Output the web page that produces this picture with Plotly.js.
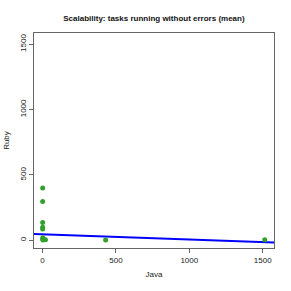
<!DOCTYPE html>
<html>
<head>
<meta charset="utf-8">
<script src="https://cdn.plot.ly/plotly-3.0.1.min.js"></script>
<style>html,body{margin:0;padding:0;background:#fff;}#chart{width:291px;height:291px;}</style>
</head>
<body>
<div id="chart"></div>
<script>
const javaValues = [1, 1, 1, 1, 1, 2, 1, 3, 20, 430, 1514];
const rubyValues = [400, 296, 136, 100, 86, 20, 10, 3, 5, 2, 5];
const fitIntercept = 46;
const fitSlope = -0.04;
const xRange = [-58, 1577];
const yRange = [-59, 1586];
const tickValues = [0, 500, 1000, 1500];
const titleText = "Scalability: tasks running without errors (mean)";

const fitX = [xRange[0], xRange[1]];
const fitY = fitX.map(x => fitIntercept + fitSlope * x);

const fontFam = "Liberation Sans, Arial, sans-serif";
const data = [
  {x: fitX, y: fitY, type: 'scatter', mode: 'lines',
   line: {color: '#0000ff', width: 2}, hoverinfo: 'skip'},
  {x: javaValues, y: rubyValues, type: 'scatter', mode: 'markers',
   marker: {color: '#33a02c', size: 5}}
];
const axisCommon = {
  showgrid: false, zeroline: false, showline: true, mirror: true,
  linecolor: '#666', linewidth: 1, ticks: 'outside', ticklen: 4,
  tickcolor: '#666', tickvals: tickValues,
  tickfont: {family: fontFam, size: 8, color: '#222'}
};
const layout = {
  width: 291, height: 291,
  margin: {l: 34, r: 17, t: 33, b: 43},
  paper_bgcolor: '#fff', plot_bgcolor: '#fff',
  showlegend: false,
  title: {text: '<b>' + titleText + '</b>', x: 0.529, xanchor: 'center',
          y: 0.938, yanchor: 'middle', font: {family: fontFam, size: 8, color: '#111'}},
  xaxis: Object.assign({}, axisCommon, {range: xRange,
    title: {text: 'Java', standoff: 7, font: {family: fontFam, size: 8, color: '#222'}}}),
  yaxis: Object.assign({}, axisCommon, {range: yRange, tickangle: -90,
    title: {text: 'Ruby', standoff: 7, font: {family: fontFam, size: 8, color: '#222'}}})
};
Plotly.newPlot('chart', data, layout, {displayModeBar: false, staticPlot: true});
</script>
</body>
</html>
